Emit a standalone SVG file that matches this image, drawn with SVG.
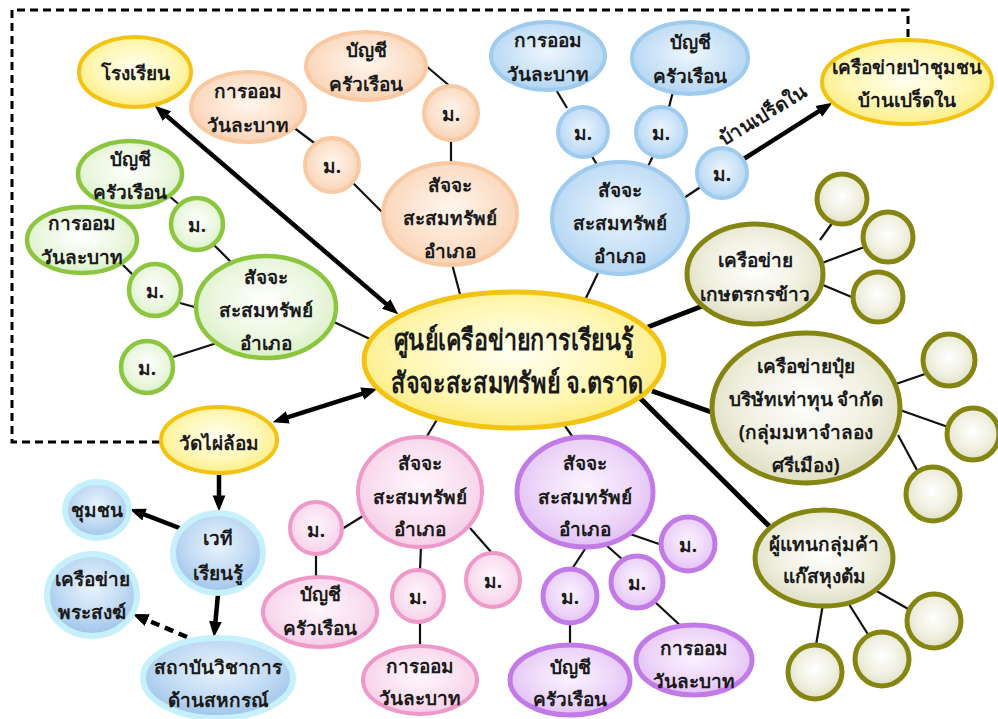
<svg xmlns="http://www.w3.org/2000/svg" width="998" height="719" viewBox="0 0 998 719">
<defs>
<radialGradient id="gY" cx="50%" cy="45%" r="60%"><stop offset="0" stop-color="#FFFFF2"/><stop offset="0.6" stop-color="#FFF7B4"/><stop offset="1" stop-color="#FCEA78"/></radialGradient>
<radialGradient id="gO" cx="50%" cy="45%" r="60%"><stop offset="0" stop-color="#FFF6EE"/><stop offset="0.6" stop-color="#FCE0CA"/><stop offset="1" stop-color="#F9D0B0"/></radialGradient>
<radialGradient id="gB" cx="50%" cy="45%" r="60%"><stop offset="0" stop-color="#EEF6FD"/><stop offset="0.6" stop-color="#C8E1F7"/><stop offset="1" stop-color="#AED2F1"/></radialGradient>
<radialGradient id="gG" cx="50%" cy="45%" r="60%"><stop offset="0" stop-color="#FFFFFF"/><stop offset="0.6" stop-color="#EBF7E0"/><stop offset="1" stop-color="#D6EEC0"/></radialGradient>
<radialGradient id="gL" cx="50%" cy="45%" r="60%"><stop offset="0" stop-color="#FFFFFF"/><stop offset="0.6" stop-color="#EFEFDF"/><stop offset="1" stop-color="#DADABD"/></radialGradient>
<radialGradient id="gP" cx="50%" cy="45%" r="60%"><stop offset="0" stop-color="#FFF6FB"/><stop offset="0.6" stop-color="#FADFF0"/><stop offset="1" stop-color="#F5CAE5"/></radialGradient>
<radialGradient id="gV" cx="50%" cy="45%" r="60%"><stop offset="0" stop-color="#FBF3FF"/><stop offset="0.6" stop-color="#EDD6F9"/><stop offset="1" stop-color="#DEBBF2"/></radialGradient>
<radialGradient id="gC" cx="50%" cy="40%" r="60%"><stop offset="0" stop-color="#E8F3FC"/><stop offset="0.6" stop-color="#C0DAF3"/><stop offset="1" stop-color="#9DC3EA"/></radialGradient>
<marker id="ah" viewBox="0 0 10 10" refX="6" refY="5" markerWidth="16" markerHeight="16" markerUnits="userSpaceOnUse" orient="auto-start-reverse"><path d="M0,1 L10,5 L0,9 z" fill="#000"/></marker>
</defs>
<style>
text{font-family:"Noto Sans",sans-serif;font-size:19px;font-weight:bold;fill:#1a1a1a;text-anchor:middle}
.big{font-size:29px}
.ln{stroke:#111;stroke-width:2.2;fill:none}
.tk{stroke:#000;stroke-width:5;fill:none}
.ar{stroke:#000;stroke-width:4.5;fill:none;marker-end:url(#ah)}
.ar2{stroke:#000;stroke-width:4.5;fill:none;marker-end:url(#ah);marker-start:url(#ah)}
.da{stroke:#000;stroke-width:4.5;fill:none;stroke-dasharray:9 6;marker-end:url(#ah)}
.bd{stroke:#000;stroke-width:3;fill:none;stroke-dasharray:8 5}
.y{fill:url(#gY);stroke:#F2C311;stroke-width:4}
.o{fill:url(#gO);stroke:#F8C9A2;stroke-width:4}
.b{fill:url(#gB);stroke:#9ECBEE;stroke-width:4}
.g{fill:url(#gG);stroke:#8CC63F;stroke-width:4.5}
.l{fill:url(#gL);stroke:#858512;stroke-width:5}
.p{fill:url(#gP);stroke:#EE99C9;stroke-width:4}
.v{fill:url(#gV);stroke:#C27BE6;stroke-width:5}
.c{fill:url(#gC);stroke:#C6F0FC;stroke-width:6}
</style>
<rect width="998" height="719" fill="#fff"/>
<g id="connectors">
<path class="bd" d="M160,442 H12 V10 H908 V40"/>
<line class="ln" x1="425" y1="65" x2="452" y2="88"/>
<line class="ln" x1="451" y1="140" x2="451" y2="163"/>
<line class="ln" x1="293" y1="127" x2="317" y2="145"/>
<line class="ln" x1="352" y1="182" x2="383" y2="213"/>
<line class="ln" x1="452" y1="264" x2="461" y2="298"/>
<line class="ln" x1="555" y1="88" x2="567" y2="108"/>
<line class="ln" x1="590" y1="153" x2="603" y2="175"/>
<line class="ln" x1="674" y1="88" x2="669" y2="107"/>
<line class="ln" x1="653" y1="156" x2="643" y2="177"/>
<line class="ln" x1="702" y1="186" x2="684" y2="198"/>
<line class="ln" x1="598" y1="273" x2="585" y2="300"/>
<line class="ln" x1="168" y1="195" x2="182" y2="207"/>
<line class="ln" x1="213" y1="244" x2="233" y2="264"/>
<line class="ln" x1="123" y1="265" x2="135" y2="277"/>
<line class="ln" x1="180" y1="303" x2="198" y2="308"/>
<line class="ln" x1="170" y1="358" x2="217" y2="343"/>
<line class="ln" x1="334" y1="322" x2="372" y2="340"/>
<line class="ln" x1="820" y1="240" x2="833" y2="222"/>
<line class="ln" x1="822" y1="263" x2="867" y2="246"/>
<line class="ln" x1="823" y1="285" x2="854" y2="298"/>
<line class="ln" x1="893" y1="385" x2="925" y2="374"/>
<line class="ln" x1="900" y1="410" x2="948" y2="427"/>
<line class="ln" x1="898" y1="435" x2="918" y2="472"/>
<line class="ln" x1="823" y1="604" x2="816" y2="645"/>
<line class="ln" x1="847" y1="601" x2="869" y2="636"/>
<line class="ln" x1="873" y1="589" x2="910" y2="610"/>
<line class="ln" x1="342" y1="529" x2="363" y2="516"/>
<line class="ln" x1="316" y1="554" x2="316" y2="578"/>
<line class="ln" x1="421" y1="546" x2="420" y2="570"/>
<line class="ln" x1="420" y1="622" x2="420" y2="646"/>
<line class="ln" x1="470" y1="528" x2="492" y2="553"/>
<line class="ln" x1="438" y1="418" x2="424" y2="441"/>
<line class="ln" x1="630" y1="534" x2="662" y2="545"/>
<line class="ln" x1="587" y1="546" x2="572" y2="569"/>
<line class="ln" x1="605" y1="544" x2="623" y2="560"/>
<line class="ln" x1="570" y1="623" x2="570" y2="645"/>
<line class="ln" x1="655" y1="602" x2="683" y2="628"/>
<line class="ln" x1="565" y1="426" x2="577" y2="443"/>
<line class="tk" x1="648" y1="327" x2="705" y2="305"/>
<line class="tk" x1="652" y1="391" x2="714" y2="413"/>
<line class="tk" x1="640" y1="398" x2="772" y2="529"/>
<line class="ar2" x1="159.6" y1="109.9" x2="393.4" y2="310.1"/>
<line class="ar2" x1="278.7" y1="420.2" x2="371.3" y2="390.8"/>
<line class="ar" x1="742" y1="160" x2="826.9" y2="106.2"/>
<line class="ar" x1="219" y1="475" x2="219" y2="505"/>
<line class="ar" x1="182" y1="529" x2="135.6" y2="511.2"/>
<line class="ar" x1="218" y1="594" x2="214.6" y2="631"/>
<line class="da" x1="187" y1="637" x2="138.5" y2="616.4"/>
<text x="766" y="121" transform="rotate(-31 766 121)" style="font-size:19px">บ้านเปร็ดใน</text>
</g>
<g id="center"><ellipse class="y" cx="514" cy="360" rx="150" ry="68" style="stroke-width:5"/><text class="big" x="514" y="350" textLength="240" lengthAdjust="spacingAndGlyphs">ศูนย์เครือข่ายการเรียนรู้</text><text class="big" x="517" y="393" textLength="252" lengthAdjust="spacingAndGlyphs">สัจจะสะสมทรัพย์ จ.ตราด</text></g>
<g id="school"><ellipse class="y" cx="135" cy="72" rx="56" ry="35"/><text x="135" y="80">โรงเรียน</text></g>
<g id="forest"><ellipse class="y" cx="907" cy="82" rx="85" ry="42"/><text x="907" y="74">เครือข่ายป่าชุมชน</text><text x="907" y="107">บ้านเปร็ดใน</text></g>
<g id="temple"><ellipse class="y" cx="219" cy="440" rx="58" ry="33"/><text x="219" y="450">วัดไผ่ล้อม</text></g>
<g id="o-acc"><ellipse class="o" cx="366" cy="66" rx="60" ry="34"/><text x="366" y="57">บัญชี</text><text x="366" y="91">ครัวเรือน</text></g>
<g id="o-sav"><ellipse class="o" cx="248" cy="107" rx="57" ry="35"/><text x="248" y="98">การออม</text><text x="248" y="132">วันละบาท</text></g>
<g id="o-m1"><circle class="o" cx="332" cy="165" r="27"/><text x="332" y="173">ม.</text></g>
<g id="o-m2"><circle class="o" cx="451" cy="113" r="27"/><text x="451" y="121">ม.</text></g>
<g id="o-main"><ellipse class="o" cx="450" cy="214" rx="67" ry="51"/><text x="450" y="192">สัจจะ</text><text x="450" y="225">สะสมทรัพย์</text><text x="450" y="258">อำเภอ</text></g>
<g id="b-sav"><ellipse class="b" cx="548" cy="56" rx="57" ry="34"/><text x="548" y="47">การออม</text><text x="548" y="81">วันละบาท</text></g>
<g id="b-acc"><ellipse class="b" cx="690" cy="58" rx="58" ry="36"/><text x="690" y="49">บัญชี</text><text x="690" y="83">ครัวเรือน</text></g>
<g id="b-m1"><circle class="b" cx="583" cy="132" r="25"/><text x="583" y="140">ม.</text></g>
<g id="b-m2"><circle class="b" cx="661" cy="132" r="25"/><text x="661" y="140">ม.</text></g>
<g id="b-m3"><circle class="b" cx="722" cy="173" r="25"/><text x="722" y="181">ม.</text></g>
<g id="b-main"><ellipse class="b" cx="620" cy="218" rx="68" ry="56"/><text x="620" y="197">สัจจะ</text><text x="620" y="230">สะสมทรัพย์</text><text x="620" y="263">อำเภอ</text></g>
<g id="g-acc"><ellipse class="g" cx="130" cy="174" rx="52" ry="33"/><text x="130" y="166">บัญชี</text><text x="130" y="199">ครัวเรือน</text></g>
<g id="g-sav"><ellipse class="g" cx="82" cy="240" rx="55" ry="33"/><text x="82" y="230">การออม</text><text x="82" y="264">วันละบาท</text></g>
<g id="g-m1"><circle class="g" cx="197" cy="224" r="26"/><text x="197" y="232">ม.</text></g>
<g id="g-m2"><circle class="g" cx="155" cy="290" r="26"/><text x="155" y="298">ม.</text></g>
<g id="g-m3"><circle class="g" cx="147" cy="367" r="26"/><text x="147" y="375">ม.</text></g>
<g id="g-main"><ellipse class="g" cx="266" cy="307" rx="70" ry="51"/><text x="266" y="284">สัจจะ</text><text x="266" y="317">สะสมทรัพย์</text><text x="266" y="350">อำเภอ</text></g>
<g id="rice"><ellipse class="l" cx="755" cy="274" rx="68" ry="50"/><text x="755" y="267">เครือข่าย</text><text x="755" y="301">เกษตรกรข้าว</text></g>
<g id="rice-c1"><circle class="l" cx="842" cy="199" r="25"/></g>
<g id="rice-c2"><circle class="l" cx="888" cy="237" r="25"/></g>
<g id="rice-c3"><circle class="l" cx="878" cy="297" r="25"/></g>
<g id="fert"><ellipse class="l" cx="806" cy="408" rx="94" ry="75"/><text x="806" y="373">เครือข่ายปุ๋ย</text><text x="806" y="406">บริษัทเท่าทุน จำกัด</text><text x="806" y="439">(กลุ่มมหาจำลอง</text><text x="806" y="472">ศรีเมือง)</text></g>
<g id="fert-c1"><circle class="l" cx="949" cy="360" r="26"/></g>
<g id="fert-c2"><circle class="l" cx="973" cy="434" r="26"/></g>
<g id="fert-c3"><circle class="l" cx="933" cy="494" r="27"/></g>
<g id="gas"><ellipse class="l" cx="824" cy="558" rx="69" ry="48"/><text x="824" y="551">ผู้แทนกลุ่มค้า</text><text x="824" y="583">แก๊สหุงต้ม</text></g>
<g id="gas-c1"><circle class="l" cx="815" cy="672" r="27"/></g>
<g id="gas-c2"><circle class="l" cx="882" cy="659" r="27"/></g>
<g id="gas-c3"><circle class="l" cx="934" cy="621" r="27"/></g>
<g id="p-main"><ellipse class="p" cx="420" cy="492" rx="62" ry="55"/><text x="420" y="470">สัจจะ</text><text x="420" y="504">สะสมทรัพย์</text><text x="420" y="536">อำเภอ</text></g>
<g id="p-m1"><circle class="p" cx="316" cy="528" r="26"/><text x="316" y="537">ม.</text></g>
<g id="p-m2"><circle class="p" cx="418" cy="596" r="26"/><text x="418" y="604">ม.</text></g>
<g id="p-m3"><circle class="p" cx="493" cy="580" r="27"/><text x="493" y="588">ม.</text></g>
<g id="p-acc"><ellipse class="p" cx="320" cy="612" rx="57" ry="35"/><text x="320" y="601">บัญชี</text><text x="320" y="635">ครัวเรือน</text></g>
<g id="p-sav"><ellipse class="p" cx="420" cy="680" rx="57" ry="34"/><text x="420" y="673">การออม</text><text x="420" y="705">วันละบาท</text></g>
<g id="v-main"><ellipse class="v" cx="585" cy="492" rx="68" ry="55"/><text x="585" y="470">สัจจะ</text><text x="585" y="504">สะสมทรัพย์</text><text x="585" y="536">อำเภอ</text></g>
<g id="v-m1"><circle class="v" cx="688" cy="544" r="27"/><text x="688" y="552">ม.</text></g>
<g id="v-m2"><circle class="v" cx="570" cy="596" r="27"/><text x="570" y="604">ม.</text></g>
<g id="v-m3"><circle class="v" cx="637" cy="582" r="26"/><text x="637" y="590">ม.</text></g>
<g id="v-acc"><ellipse class="v" cx="570" cy="680" rx="60" ry="35"/><text x="570" y="674">บัญชี</text><text x="570" y="706">ครัวเรือน</text></g>
<g id="v-sav"><ellipse class="v" cx="694" cy="660" rx="58" ry="35"/><text x="694" y="655">การออม</text><text x="694" y="688">วันละบาท</text></g>
<g id="stage"><ellipse class="c" cx="218" cy="553" rx="45" ry="40"/><text x="218" y="545">เวที</text><text x="218" y="580">เรียนรู้</text></g>
<g id="community"><ellipse class="c" cx="97" cy="510" rx="32" ry="28"/><text x="97" y="517">ชุมชน</text></g>
<g id="monks"><ellipse class="c" cx="92" cy="595" rx="45" ry="41"/><text x="92" y="586">เครือข่าย</text><text x="92" y="619">พระสงฆ์</text></g>
<g id="institute"><ellipse class="c" cx="218" cy="678" rx="75" ry="40"/><text x="218" y="674">สถาบันวิชาการ</text><text x="218" y="707">ด้านสหกรณ์</text></g>
</svg>
